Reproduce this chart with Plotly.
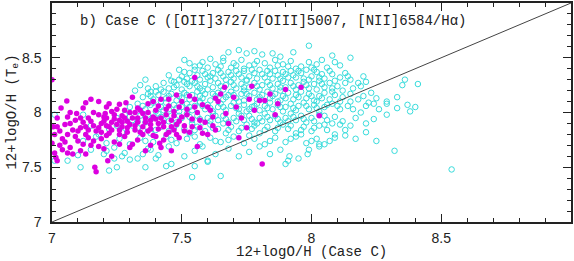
import plotly.graph_objects as go

# ---- data ----
cyan_pts = [
    # top, sparse
    (7.68,8.55),(7.72,8.57),(7.75,8.54),(7.78,8.56),(7.81,8.53),(7.85,8.54),(7.88,8.51),(7.99,8.61),
    (8.08,8.52),(8.15,8.50),(7.61,8.49),(7.51,8.48),(7.66,8.50),(7.93,8.55),
    # 8.40-8.50
    (7.49,8.39),(7.55,8.42),(7.58,8.46),(7.63,8.44),(7.66,8.47),(7.70,8.45),(7.73,8.48),(7.76,8.43),
    (7.79,8.47),(7.82,8.45),(7.86,8.48),(7.89,8.44),(7.92,8.47),(7.96,8.42),(7.99,8.46),(8.02,8.44),
    (8.06,8.41),(8.11,8.43),(8.04,8.48),(7.60,8.41),(7.69,8.41),(7.74,8.40),(7.84,8.41),(7.94,8.40),
    (7.57,8.43),(7.65,8.42),(7.71,8.43),(7.78,8.44),(7.87,8.43),(7.91,8.42),(8.00,8.41),(8.09,8.46),(7.53,8.45),
    # 8.30-8.40
    (7.47,8.28),(7.50,8.33),(7.52,8.31),(7.53,8.36),(7.56,8.34),(7.58,8.38),(7.60,8.32),(7.62,8.36),
    (7.64,8.39),(7.66,8.33),(7.68,8.37),(7.70,8.31),(7.72,8.35),(7.74,8.38),(7.76,8.33),(7.78,8.36),
    (7.80,8.39),(7.82,8.32),(7.84,8.35),(7.86,8.38),(7.88,8.31),(7.90,8.35),(7.92,8.38),(7.94,8.32),
    (7.96,8.36),(7.98,8.39),(8.00,8.33),(8.02,8.37),(8.05,8.31),(8.08,8.35),(8.11,8.32),(7.57,8.30),
    (7.63,8.31),(7.69,8.34),(7.75,8.30),(7.81,8.35),(7.87,8.34),(7.93,8.34),(7.99,8.30),(8.04,8.35),
    (7.36,8.30),(7.34,8.25),(8.15,8.30),(8.21,8.28),(8.20,8.33),
    (7.51,8.37),(7.55,8.39),(7.59,8.35),(7.65,8.36),(7.71,8.38),(7.77,8.39),(7.83,8.38),(7.89,8.37),
    (7.95,8.38),(8.01,8.39),(8.07,8.38),(8.13,8.36),(7.45,8.34),
    (7.49,8.30),(7.54,8.29),(7.61,8.33),(7.67,8.30),(7.73,8.32),(7.79,8.31),(7.85,8.31),(7.91,8.32),
    (7.97,8.31),(8.03,8.32),(8.09,8.29),(8.14,8.33),(8.18,8.27),
    # 8.20-8.30
    (7.40,8.24),(7.43,8.27),(7.45,8.22),(7.48,8.25),(7.50,8.21),(7.51,8.28),(7.53,8.24),(7.55,8.27),
    (7.57,8.22),(7.59,8.26),(7.61,8.29),(7.62,8.23),(7.64,8.27),(7.66,8.21),(7.67,8.25),(7.69,8.28),
    (7.71,8.22),(7.73,8.26),(7.75,8.29),(7.76,8.23),(7.78,8.27),(7.80,8.21),(7.81,8.25),(7.83,8.28),
    (7.85,8.22),(7.87,8.26),(7.89,8.29),(7.90,8.23),(7.92,8.27),(7.94,8.21),(7.95,8.25),(7.97,8.28),
    (7.99,8.22),(8.01,8.26),(8.03,8.29),(8.05,8.23),(8.07,8.27),(8.10,8.24),(8.13,8.27),(8.16,8.22),
    (7.46,8.29),(7.58,8.20),(7.74,8.20),(7.88,8.20),(8.02,8.21),(7.32,8.20),(7.38,8.19),(8.36,8.30),
    (8.41,8.26),(8.35,8.25),(8.23,8.18),(8.19,8.24),
    (7.42,8.21),(7.47,8.23),(7.52,8.26),(7.56,8.24),(7.60,8.21),(7.65,8.24),(7.70,8.25),(7.74,8.23),
    (7.79,8.24),(7.84,8.25),(7.88,8.23),(7.93,8.24),(7.98,8.25),(8.04,8.26),(8.08,8.22),(8.12,8.20),(7.37,8.22),
    # 8.10-8.20
    (7.35,8.14),(7.37,8.17),(7.39,8.12),(7.41,8.16),(7.43,8.19),(7.44,8.13),(7.46,8.17),(7.48,8.11),
    (7.49,8.15),(7.51,8.18),(7.53,8.12),(7.54,8.16),(7.56,8.19),(7.58,8.13),(7.59,8.17),(7.61,8.11),
    (7.63,8.15),(7.64,8.18),(7.66,8.12),(7.68,8.16),(7.69,8.19),(7.71,8.13),(7.73,8.17),(7.74,8.11),
    (7.76,8.15),(7.78,8.18),(7.79,8.12),(7.81,8.16),(7.83,8.19),(7.84,8.13),(7.86,8.17),(7.88,8.11),
    (7.89,8.15),(7.91,8.18),(7.93,8.12),(7.94,8.16),(7.96,8.19),(7.98,8.13),(7.99,8.17),(8.01,8.11),
    (8.03,8.15),(8.05,8.18),(8.07,8.12),(8.09,8.16),(8.12,8.14),(8.15,8.17),(8.18,8.12),(8.25,8.13),
    (8.29,8.10),(8.33,8.14),(8.15,8.10),(7.42,8.10),(7.57,8.10),(7.72,8.10),(7.87,8.10),(8.02,8.10),
    (7.38,8.15),(7.40,8.19),(7.45,8.15),(7.50,8.13),(7.52,8.16),(7.57,8.15),(7.62,8.17),(7.67,8.14),
    (7.70,8.16),(7.75,8.17),(7.80,8.14),(7.85,8.15),(7.90,8.13),(7.95,8.14),(8.00,8.15),(8.04,8.13),
    (8.08,8.19),(8.11,8.10),(8.20,8.15),(8.22,8.09),
    # 8.00-8.10
    (7.30,8.05),(7.33,8.08),(7.36,8.03),(7.38,8.07),(7.40,8.01),(7.42,8.05),(7.44,8.09),(7.45,8.03),
    (7.47,8.07),(7.49,8.01),(7.50,8.05),(7.52,8.08),(7.54,8.02),(7.55,8.06),(7.57,8.09),(7.59,8.03),
    (7.60,8.07),(7.62,8.01),(7.64,8.05),(7.65,8.08),(7.67,8.02),(7.69,8.06),(7.70,8.09),(7.72,8.03),
    (7.74,8.07),(7.75,8.01),(7.77,8.05),(7.79,8.08),(7.80,8.02),(7.82,8.06),(7.84,8.09),(7.85,8.03),
    (7.87,8.07),(7.89,8.01),(7.90,8.05),(7.92,8.08),(7.94,8.02),(7.95,8.06),(7.97,8.09),(7.99,8.03),
    (8.01,8.07),(8.03,8.01),(8.05,8.05),(8.08,8.08),(8.11,8.03),(8.14,8.06),(8.29,8.08),(8.37,8.07),
    (8.40,8.05),(8.38,8.01),(8.33,8.04),(8.26,8.03),(8.21,8.06),(8.19,8.00),
    (7.35,8.06),(7.39,8.09),(7.43,8.02),(7.48,8.04),(7.53,8.05),(7.58,8.06),(7.61,8.04),(7.66,8.05),
    (7.71,8.04),(7.76,8.03),(7.78,8.06),(7.83,8.04),(7.88,8.05),(7.93,8.04),(7.98,8.06),(8.02,8.04),
    (8.06,8.07),(8.10,8.06),(8.16,8.03),(8.24,8.08),
    # 7.90-8.00
    (7.25,7.95),(7.28,7.98),(7.31,7.93),(7.34,7.97),(7.36,7.91),(7.39,7.95),(7.41,7.99),(7.43,7.93),
    (7.46,7.97),(7.48,7.91),(7.50,7.95),(7.52,7.99),(7.54,7.93),(7.56,7.97),(7.58,7.91),(7.60,7.95),
    (7.62,7.99),(7.64,7.93),(7.66,7.97),(7.68,7.91),(7.70,7.95),(7.72,7.99),(7.74,7.93),(7.76,7.97),
    (7.78,7.91),(7.80,7.95),(7.82,7.99),(7.84,7.93),(7.86,7.97),(7.88,7.91),(7.90,7.95),(7.92,7.99),
    (7.94,7.93),(7.96,7.97),(7.98,7.91),(8.00,7.95),(8.03,7.98),(8.06,7.93),(8.09,7.96),(8.12,7.92),
    (8.15,7.88),(8.11,7.89),(8.21,7.90),(8.29,7.98),(8.24,7.94),(7.01,7.98),(7.12,7.98),
    (7.30,7.96),(7.33,7.92),(7.37,7.98),(7.42,7.96),(7.45,7.92),(7.49,7.97),(7.53,7.96),(7.57,7.94),
    (7.61,7.92),(7.63,7.97),(7.67,7.94),(7.71,7.92),(7.73,7.97),(7.77,7.94),(7.81,7.92),(7.83,7.96),
    (7.87,7.94),(7.91,7.92),(7.93,7.96),(7.97,7.94),(8.01,7.92),(8.05,7.97),(8.08,7.90),(8.17,7.95),
    # 7.80-7.90
    (7.22,7.85),(7.27,7.82),(7.31,7.88),(7.35,7.84),(7.38,7.81),(7.42,7.87),(7.45,7.83),(7.48,7.89),
    (7.51,7.85),(7.53,7.81),(7.56,7.87),(7.59,7.83),(7.61,7.89),(7.64,7.85),(7.67,7.81),(7.69,7.87),
    (7.72,7.83),(7.75,7.89),(7.77,7.85),(7.80,7.81),(7.83,7.87),(7.86,7.83),(7.89,7.89),(7.91,7.85),
    (7.94,7.81),(7.97,7.87),(8.00,7.83),(8.03,7.88),(8.06,7.84),(8.09,7.80),(8.21,7.82),(7.15,7.88),
    (7.18,7.80),(7.79,7.90),(7.66,7.90),(7.54,7.90),
    (7.25,7.88),(7.33,7.86),(7.40,7.84),(7.47,7.86),(7.55,7.84),(7.62,7.86),(7.68,7.84),(7.73,7.86),
    (7.78,7.88),(7.82,7.84),(7.87,7.86),(7.92,7.88),(7.96,7.84),(8.01,7.86),(8.05,7.89),(8.13,7.84),
    # 7.70-7.80
    (7.12,7.74),(7.17,7.78),(7.21,7.72),(7.26,7.76),(7.30,7.71),(7.34,7.77),(7.39,7.73),(7.44,7.78),
    (7.48,7.72),(7.52,7.76),(7.57,7.71),(7.61,7.77),(7.65,7.73),(7.70,7.78),(7.74,7.72),(7.78,7.76),
    (7.82,7.71),(7.86,7.77),(7.90,7.73),(7.94,7.78),(7.98,7.72),(8.02,7.76),(8.05,7.71),(8.09,7.77),
    (8.25,7.74),(8.03,7.71),
    (7.36,7.74),(7.46,7.75),(7.55,7.78),(7.63,7.74),(7.68,7.75),(7.76,7.79),(7.84,7.74),(7.92,7.76),
    (7.96,7.80),(8.00,7.74),(8.07,7.74),(8.13,7.79),(8.17,7.76),
    # 7.55-7.70
    (7.01,7.56),(7.06,7.56),(7.10,7.61),(7.15,7.66),(7.20,7.62),(7.24,7.68),(7.28,7.63),(7.33,7.58),
    (7.37,7.67),(7.41,7.61),(7.51,7.60),(7.55,7.65),(7.60,7.56),(7.63,7.62),(7.68,7.67),(7.72,7.60),
    (7.76,7.64),(7.80,7.69),(7.84,7.62),(7.88,7.66),(7.91,7.56),(7.915,7.60),(7.95,7.58),(7.985,7.62),
    (8.03,7.69),(7.99,7.66),(8.32,7.65),(7.58,7.69),(7.45,7.69),(7.27,7.60),(7.30,7.57),(7.35,7.62),
    (7.40,7.58),(7.38,7.66),(7.24,7.58),(7.21,7.65),
    # below 7.55
    (7.11,7.50),(7.22,7.47),(7.25,7.50),(7.36,7.50),(7.44,7.51),(7.54,7.41),(7.65,7.42),(7.55,7.51),
    (7.90,7.53),(8.54,7.48),(7.46,7.53),(7.60,7.55),
]

magenta_pts = [
    (7.00,8.30),(7.00,7.72),(7.005,7.87),(7.01,7.63),(7.015,7.59),(7.02,7.56),(7.02,7.87),(7.035,8.04),
    (7.04,7.76),(7.05,7.89),(7.057,8.105),(7.06,7.80),(7.07,7.68),(7.08,7.84),(7.09,7.93),(7.095,7.99),
    (7.10,7.74),(7.03,7.70),(7.06,7.96),(7.08,7.62),
    (7.11,7.86),(7.12,7.91),(7.13,8.09),(7.13,7.80),(7.14,7.95),(7.15,7.70),(7.16,7.88),(7.165,7.50),
    (7.17,7.46),(7.17,7.83),(7.18,7.98),(7.19,7.76),(7.20,7.92),(7.205,7.99),(7.21,8.05),(7.215,7.56),
    (7.22,7.87),(7.22,7.81),(7.23,8.01),(7.24,7.94),(7.24,7.73),(7.25,8.03),(7.25,7.89),(7.26,8.075),
    (7.26,7.84),(7.27,7.97),(7.28,7.78),(7.285,8.09),(7.29,7.92),(7.29,7.86),(7.30,8.00),(7.30,7.68),
    (7.14,7.77),(7.19,7.90),(7.23,7.60),(7.12,7.71),(7.27,7.91),(7.21,7.95),
    (7.31,8.14),(7.31,7.71),(7.32,7.88),(7.33,7.95),(7.33,8.04),(7.34,7.82),(7.35,7.99),(7.36,7.65),
    (7.36,7.91),(7.37,8.08),(7.38,7.85),(7.39,7.96),(7.40,7.78),(7.40,8.02),(7.41,7.90),(7.415,7.72),
    (7.42,8.12),(7.43,7.87),(7.44,7.98),(7.45,8.06),(7.45,7.82),(7.46,7.65),(7.46,7.93),(7.47,8.01),
    (7.48,7.89),(7.48,8.16),(7.49,7.77),(7.50,7.96),(7.50,8.10),(7.35,7.80),(7.38,7.93),(7.43,7.75),
    (7.47,7.84),(7.32,8.00),(7.42,7.95),
    (7.51,7.88),(7.52,8.03),(7.53,7.82),(7.54,7.94),(7.55,8.12),(7.55,8.32),(7.56,7.69),(7.56,8.00),
    (7.57,7.86),(7.58,8.07),(7.59,7.91),(7.60,7.80),(7.61,8.02),(7.62,7.96),(7.63,7.84),(7.64,8.10),
    (7.65,8.17),(7.53,8.15),
    (7.665,8.23),(7.67,7.99),(7.68,7.90),(7.70,8.14),(7.71,8.05),(7.72,7.77),(7.73,7.95),(7.76,8.12),
    (7.77,8.24),(7.78,8.02),(7.80,8.11),(7.81,7.53),(7.82,8.11),(7.84,8.17),(7.86,7.98),(7.87,8.08),
    (7.90,8.21),(7.96,8.23),(8.03,7.97),(7.75,7.86),
    (7.01,7.80),(7.02,7.95),(7.03,7.83),(7.04,7.66),(7.05,7.73),(7.07,7.90),(7.07,8.00),(7.09,7.78),
    (7.10,7.83),(7.11,7.65),(7.11,7.95),(7.13,7.87),(7.14,7.84),(7.15,7.92),(7.16,7.74),(7.16,8.00),
    (7.18,7.86),(7.18,7.69),(7.19,7.82),(7.20,7.96),(7.21,7.79),(7.21,7.88),(7.23,7.84),(7.23,7.91),
    (7.24,7.98),(7.26,7.80),(7.26,7.93),(7.27,7.87),(7.28,7.95),(7.28,8.02),(7.29,7.82),(7.30,7.89),
    (7.31,7.95),(7.32,7.84),(7.33,7.91),(7.34,8.02),(7.35,7.87),(7.36,7.95),(7.37,7.83),(7.37,8.00),
    (7.38,7.89),(7.39,7.79),(7.40,7.94),(7.41,7.85),(7.41,8.06),(7.43,7.91),(7.44,7.80),(7.44,8.03),
    (7.46,7.87),(7.47,7.97),(7.48,7.80),(7.49,7.92),(7.49,8.05),(7.51,7.83),(7.52,7.98),(7.54,7.87),
    (7.55,8.05),(7.57,7.93),(7.58,7.81),(7.60,8.05),(7.62,7.88),(7.63,8.13),(7.45,8.12),(7.39,8.10),
    (7.22,8.08),(7.18,8.10),(7.12,8.04),(7.15,8.12),(7.26,7.71),(7.33,7.75),(7.38,7.70),(7.42,7.68),
    (7.06,7.63),(7.13,7.62),(7.20,7.67),
]

cyan_x = [p[0] for p in cyan_pts]
cyan_y = [p[1] for p in cyan_pts]
magenta_x = [p[0] for p in magenta_pts]
magenta_y = [p[1] for p in magenta_pts]

line_x = [7, 9]
line_y = [7, 9]

tick_vals = [7, 7.5, 8, 8.5]
tick_text = ["7", "7.5", "8", "8.5"]

title_text = "b) Case C ([OII]3727/[OIII]5007, [NII]6584/H\u03b1)"
x_title = "12+logO/H (Case C)"
y_title = "12+logO/H (T<sub>e</sub>)"

txt_font = dict(family="Liberation Mono", size=14, color="#222222")

fig = go.Figure()
fig.add_trace(go.Scatter(
    x=cyan_x, y=cyan_y, mode="markers",
    marker=dict(symbol="circle-open", size=5.5, color="#38dcdc", line=dict(width=1, color="#38dcdc")),
    hoverinfo="skip"))
fig.add_trace(go.Scatter(
    x=magenta_x, y=magenta_y, mode="markers",
    marker=dict(symbol="circle", size=5.5, color="#dc00e0", line=dict(width=0)),
    hoverinfo="skip"))
fig.add_trace(go.Scatter(
    x=line_x, y=line_y, mode="lines",
    line=dict(color="#444444", width=1), hoverinfo="skip"))

axis_common = dict(
    showgrid=False, zeroline=False, showline=True, linecolor="#222222", linewidth=1.5,
    mirror="allticks", ticks="inside", ticklen=8, tickwidth=1, tickcolor="#222222",
    tickvals=tick_vals, ticktext=tick_text,
    tickfont=dict(family="Liberation Sans", size=14, color="#222222"),
    minor=dict(ticks="inside", dtick=0.1, ticklen=4, tickwidth=1, tickcolor="#222222"),
)

fig.update_layout(
    width=574, height=261,
    margin=dict(l=52, r=2, t=1, b=39),
    paper_bgcolor="white", plot_bgcolor="white",
    showlegend=False,
    xaxis=dict(range=[7, 9], ticklabelstandoff=2, **axis_common),
    yaxis=dict(range=[7, 9], ticklabelstandoff=6, **axis_common),
    annotations=[
        dict(text=title_text, xref="paper", yref="paper", x=0.05, y=0.92,
             xanchor="left", yanchor="middle", showarrow=False, font=txt_font),
        dict(text=x_title, xref="paper", yref="paper", x=0.5, y=-0.135,
             xanchor="center", yanchor="middle", showarrow=False, font=txt_font),
        dict(text=y_title, xref="paper", yref="paper", x=-0.077, y=0.5, textangle=-90,
             xanchor="center", yanchor="middle", showarrow=False, font=txt_font),
    ],
)

fig.write_html("out.html", config={"displayModeBar": False},
               post_script="document.body.style.margin='0';")
